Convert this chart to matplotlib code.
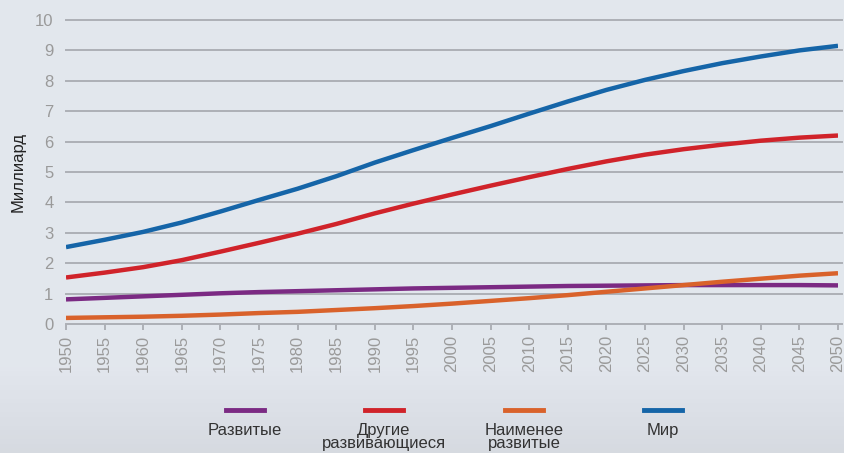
import matplotlib.pyplot as plt
import numpy as np

plt.rcParams['font.family'] = ['Liberation Sans', 'DejaVu Sans']

years = list(range(1950, 2051, 5))
developed = [0.81, 0.86, 0.91, 0.96, 1.01, 1.05, 1.08, 1.11, 1.14, 1.17, 1.19,
             1.21, 1.23, 1.25, 1.26, 1.27, 1.28, 1.28, 1.28, 1.28, 1.27]
other_developing = [1.53, 1.69, 1.87, 2.10, 2.38, 2.67, 2.97, 3.29, 3.64, 3.96, 4.26,
                    4.55, 4.83, 5.10, 5.35, 5.57, 5.75, 5.90, 6.03, 6.13, 6.20]
least_developed = [0.20, 0.22, 0.24, 0.27, 0.31, 0.36, 0.40, 0.46, 0.52, 0.59, 0.67,
                   0.76, 0.85, 0.95, 1.06, 1.17, 1.28, 1.39, 1.49, 1.59, 1.67]
world = [2.53, 2.77, 3.03, 3.34, 3.70, 4.08, 4.45, 4.86, 5.31, 5.72, 6.12,
         6.51, 6.92, 7.32, 7.70, 8.03, 8.32, 8.58, 8.80, 9.00, 9.15]

labels = ['Развитые', 'Другие\nразвивающиеся', 'Наименее\nразвитые', 'Мир']
colors = ['#7b2a83', '#d0232a', '#d9622b', '#1565a8']
series = [developed, other_developing, least_developed, world]

fig = plt.figure(figsize=(8.45, 4.53), dpi=100)

# background with slight gradient at the bottom
bg = fig.add_axes([0, 0, 1, 1], zorder=-1)
grad = np.ones((100, 1))
grad[80:, 0] = np.linspace(1, 0, 20)
top = np.array([0.890, 0.906, 0.933])
bot = np.array([0.840, 0.855, 0.882])
img = grad[..., None] * top + (1 - grad[..., None]) * bot
bg.imshow(img, aspect='auto', extent=[0, 1, 0, 1])
bg.axis('off')

ax = fig.add_axes([66 / 845, 1 - 324 / 453, 772 / 845, 304 / 453])
ax.set_facecolor('none')
for s in ax.spines.values():
    s.set_visible(False)

for y in range(0, 11):
    ax.axhline(y, color='#adb0b6', lw=1.4, zorder=1, xmin=0, xmax=1.005, clip_on=False)

for vals, c in zip(series, colors):
    ax.plot(years, vals, color=c, lw=3.2, zorder=3, solid_capstyle='butt')

ax.set_xlim(1950, 2050)
ax.set_ylim(0, 10)
ax.set_yticks(range(0, 11))
ax.set_xticks(years)
ax.set_xticklabels([str(y) for y in years], rotation=90)
ax.tick_params(axis='y', length=0, pad=9, labelsize=12, labelcolor='#9a9a9a')
ax.tick_params(axis='x', length=4, width=1.4, color='#adb0b6', pad=4,
               labelsize=12, labelcolor='#9a9a9a')
ax.set_ylabel('Миллиард', fontsize=12, color='#222222', labelpad=7)

# legend drawn below
leg_x = [245, 384, 524, 663]
for x, lab, c in zip(leg_x, labels, colors):
    fig.add_artist(plt.Line2D([(x - 19) / 845, (x + 19) / 845], [1 - 410 / 453] * 2,
                              color=c, lw=3.5, transform=fig.transFigure))
    fig.text(x / 845, 1 - 423 / 453, lab, ha='center', va='top', fontsize=12,
             color='#333333', linespacing=0.85)

fig.savefig('out.png', dpi=100)
